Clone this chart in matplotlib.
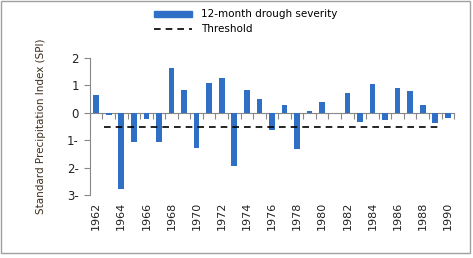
import numpy as np
import matplotlib.pyplot as plt
from matplotlib.patches import Patch, Rectangle
from matplotlib.lines import Line2D

years = list(range(1962, 1991))
spi = [0.66, -0.07, -2.78, -1.08, -0.24, -1.08, 1.63, 0.85, -1.30, 1.10,
       1.26, -1.93, 0.85, 0.51, -0.63, 0.27, -1.32, 0.05, 0.38, 0.0,
       0.71, -0.32, 1.06, -0.27, 0.89, 0.80, 0.30, -0.36, -0.18]
threshold = -0.5
ytick_vals = [2, 1, 0, -1, -2, -3]
ytick_labels = ["2", "1", "0", "1-", "2-", "3-"]

bar_color = "#2f6fc6"

fig = plt.figure(figsize=(4.73, 2.58), dpi=100)
fig.patches.append(Rectangle((0.003, 0.02), 0.99, 0.975, transform=fig.transFigure,
                             fill=False, edgecolor="#a0a0a0", lw=1))
ax = fig.add_axes([0.19, 0.244, 0.770, 0.531])

ax.bar(years, spi, width=0.45, color=bar_color, zorder=2)
ax.plot([years[0] + 0.6, years[-2] + 0.2], [threshold, threshold],
        color="black", lw=1.2, dashes=(4, 3), zorder=3)

ax.set_xlim(years[0] - 0.5, years[-1] + 0.5)
ax.set_ylim(-3, 2)
ax.set_yticks(ytick_vals)
ax.set_yticklabels(ytick_labels, fontsize=8.5, color="#222222")
ax.tick_params(axis="y", length=4, color="#888888", pad=4)

for s in ["top", "right"]:
    ax.spines[s].set_visible(False)
ax.spines["left"].set_color("#888888")
ax.spines["bottom"].set_position(("data", 0))
ax.spines["bottom"].set_color("#888888")
ax.spines["bottom"].set_zorder(1)
ax.set_xticks(np.arange(years[0] - 0.5, years[-1] + 1, 1))
ax.tick_params(axis="x", length=4, color="#888888", labelbottom=False)

sec = ax.secondary_xaxis(0)
sec.set_xticks(years[::2])
sec.set_xticklabels([str(y) for y in years[::2]], rotation=90, fontsize=8, color="#222222")
sec.tick_params(length=0, pad=5)
sec.spines["bottom"].set_visible(False)

ax.set_ylabel("Standard Precipitation Index (SPI)", fontsize=7.5, color="#3a3020", labelpad=15)

handles = [Patch(color=bar_color), Line2D([0], [0], color="black", lw=1.2, dashes=(4, 3))]
fig.legend(handles, ["12-month drough severity", "Threshold"], loc="upper center",
           bbox_to_anchor=(0.52, 1.0), frameon=False, fontsize=7.5, handlelength=3.6,
           handleheight=0.5, labelspacing=0.45, handletextpad=0.9)

fig.savefig("out.png", dpi=100)
